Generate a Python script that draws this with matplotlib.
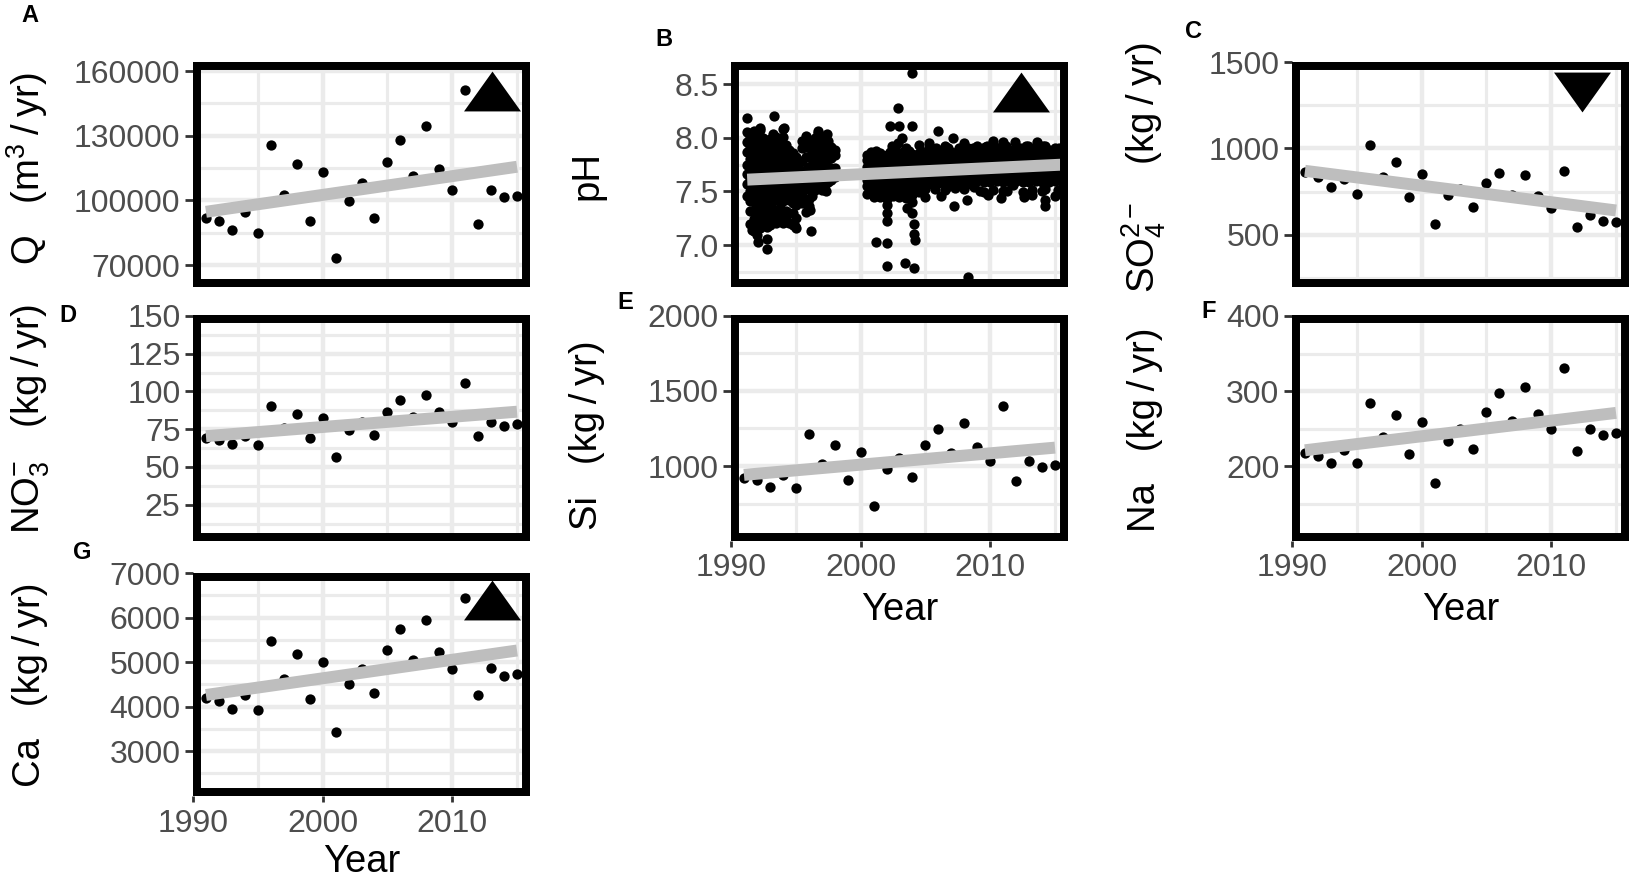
import numpy as np
import matplotlib
matplotlib.use("Agg")
import matplotlib.pyplot as plt
from matplotlib.patches import Rectangle

plt.rcParams['font.family'] = ['Liberation Sans', 'DejaVu Sans']
plt.rcParams['mathtext.fontset'] = 'custom'
plt.rcParams['mathtext.rm'] = 'Liberation Sans'
plt.rcParams['mathtext.it'] = 'Liberation Sans:italic'
plt.rcParams['mathtext.bf'] = 'Liberation Sans:bold'

# ---------------- data ----------------
years = [1991, 1992, 1993, 1994, 1995, 1996, 1997, 1998, 1999, 2000, 2001, 2002, 2003,
         2004, 2005, 2006, 2007, 2008, 2009, 2010, 2011, 2012, 2013, 2014, 2015]

q_flow = [91700, 90500, 86300, 94500, 84700, 125500, 102600, 116900, 90500, 113000, 73400, 99900,
          108000, 91700, 117800, 128200, 111400, 134700, 114700, 104600, 151000, 89100, 104600,
          101500, 101800]
so4_load = [861, 832, 778, 823, 736, 1019, 836, 919, 721, 852, 563, 730, 765, 663, 798, 855, 730,
            848, 726, 653, 867, 543, 615, 582, 572]
no3_load = [69.5, 68.2, 65.1, 70.4, 64.7, 90.1, 76.1, 85.3, 69.1, 82.5, 56.8, 74.8, 79.8, 71.1,
            86.6, 94.5, 83.1, 97.6, 86.2, 80.0, 105.7, 70.2, 80.0, 77.0, 78.3]
si_load = [923, 907, 863, 938, 857, 1212, 1011, 1137, 907, 1095, 737, 982, 1051, 925, 1143, 1245,
           1084, 1287, 1124, 1035, 1402, 901, 1033, 996, 1007]
na_load = [218, 214, 205, 222, 204, 284, 239, 268, 216, 259, 178, 234, 250, 223, 272, 297, 261, 306,
           270, 250, 331, 220, 250, 242, 245]
ca_load = [4188, 4121, 3935, 4263, 3920, 5484, 4613, 5186, 4173, 5007, 3421, 4516, 4851, 4300, 5261,
           5752, 5037, 5939, 5231, 4836, 6438, 4255, 4858, 4680, 4739]

# pH samples: sampling date (decimal year) and the pH values (x100) measured around that date
ph_dates = [1991.25, 1991.50, 1991.75, 1992.00, 1992.25, 1992.50, 1992.75, 1993.00, 1993.25, 1993.50,
            1993.75, 1994.00, 1994.25, 1994.50, 1994.75, 1995.00, 1995.25, 1995.50, 1995.75, 1996.00,
            1996.25, 1996.50, 1996.75, 1997.00, 1997.25, 1997.50, 1997.75, 1998.00,
            2000.50, 2000.75, 2001.00, 2001.25, 2001.50, 2001.75, 2002.00, 2002.25, 2002.50, 2002.75,
            2003.00, 2003.25, 2003.50, 2003.75, 2004.00, 2004.25, 2004.50, 2004.75, 2005.00, 2005.25,
            2005.50, 2005.75, 2006.00, 2006.25, 2006.50, 2006.75, 2007.00, 2007.25, 2007.50, 2007.75,
            2008.00, 2008.25, 2008.50, 2008.75, 2009.00, 2009.25, 2009.50, 2009.75, 2010.00, 2010.25,
            2010.50, 2010.75, 2011.00, 2011.25, 2011.50, 2011.75, 2012.00, 2012.25, 2012.50, 2012.75,
            2013.00, 2013.25, 2013.50, 2013.75, 2014.00, 2014.25, 2014.50, 2014.75, 2015.00, 2015.25,
            2015.50]
ph_values = [
    "746 757 766 775 787 796 805 818",
    "720 732 741 750 762 771 780 792 801",
    "713 724 733 745 754 763 775 784 794 806",
    "709 718 730 739 748 760 769 778 790 799",
    "716 725 737 746 755 767 776 785 797 807",
    "721 730 742 751 760 772 781 790 800",
    "706 717 726 735 747 756 765 777 786 796",
    "719 728 740 749 758 770 779 788 799",
    "723 734 743 752 764 773 782 794 803",
    "721 730 742 751 760 772 781 790 801",
    "726 735 747 756 765 777 786 796",
    "721 732 741 750 762 771 780 792 801 808",
    "723 732 744 753 762 774 783 793",
    "721 730 742 751 760 772 781 789",
    "719 730 739 748 760 769 778 786",
    "716 725 737 746 755 767 776 782",
    "743 754 763 771",
    "739 748 760 769 778 790 797",
    "731 740 752 761 770 782 791 799",
    "743 752 764 773 782 791",
    "746 757 766 775 787 794",
    "751 760 772 781 790 800",
    "756 765 777 786 795 804",
    "751 762 771 780 792 796",
    "756 765 777 786 795 801",
    "759 768 780 789 797",
    "761 772 781 791",
    "763 772 784 789",
    "748 755 761 767 773 779 784",
    "752 758 764 770 776 782",
    "746 755 761 767 773 779 785",
    "751 758 764 770 776 782",
    "745 755 761 767 773 779 786",
    "750 758 764 770 776 782",
    "743 754 760 766 772 778 784",
    "750 757 763 769 775 781 787",
    "746 755 761 767 773 779 785",
    "752 758 764 770 776 782 788",
    "745 754 760 766 772 778 784",
    "750 757 763 769 775 781 787",
    "744 755 761 767 773 779 785",
    "751 758 764 770 776 782 788",
    "747 755 761 767 773 779 785",
    "752 758 764 770 776 782",
    "749 756 762 768 774 780 786",
    "758 764 770 776 782",
    "752 758 764 770 776 782 787",
    "760 766 772 778 784 790",
    "757 763 769 775 781 787",
    "752 760 766 772 778 784",
    "758 764 770 776 782 788",
    "760 766 772 778 784",
    "751 757 763 769 775 781 787",
    "760 766 772 778 784 790",
    "757 763 769 775 781 787",
    "753 760 766 772 778 784",
    "758 764 770 776 782 788",
    "760 766 772 778 784",
    "752 757 763 769 775 781 787",
    "760 766 772 778 784 790",
    "757 763 769 775 781 787",
    "754 760 766 772 778 784",
    "760 766 772 778 784 790",
    "762 768 774 780 786",
    "749 759 765 771 777 783 789",
    "762 768 774 780 786 792",
    "759 765 771 777 783 789",
    "751 762 768 774 780 786",
    "760 766 772 778 784 790",
    "762 768 774 780 786",
    "750 759 765 771 777 783 789",
    "762 768 774 780 786 792",
    "759 765 771 777 783 789",
    "756 762 768 774 780 786",
    "760 766 772 778 784 790",
    "762 768 774 780 786",
    "749 759 765 771 777 783 789",
    "762 768 774 780 786 792",
    "759 765 771 777 783 789",
    "751 762 768 774 780 786",
    "760 766 772 778 784 790",
    "762 768 774 780 786",
    "750 759 765 771 777 783 789",
    "752 762 768 774 780 786 792",
    "759 765 771 777 783 789",
    "762 768 774 780 786",
    "760 766 772 778 784 790",
    "751 762 768 774 780 786",
    "759 765 771 777 783 789"]
ph_extra_dates = [1993.3, 1992.2, 1994.1, 1995.8, 1996.7, 1997.4, 1992.1, 1992.8, 1996.2, 1996.1,
                  1997.3, 1996.0, 1991.6, 1994.9,
                  2001.2, 2002.05, 2002.05, 2003.4, 2004.1, 2008.3, 2004.0, 2002.85, 2003.0, 2002.3,
                  2004.0, 2003.2, 2002.0, 2002.0, 2002.0, 2004.0, 2004.0, 2004.1, 2004.1, 2004.2,
                  2003.6, 2007.2, 2008.2, 2014.2, 2014.2, 2006.0, 2007.1, 2005.3, 2010.2, 2011.0,
                  2011.9, 2013.6, 2014.1, 2009.0, 2008.0, 2001.0, 2006.6, 2009.2, 2011.3,
                  2002.4, 2002.9, 2003.5, 2004.5, 2005.8, 2006.5, 2007.6, 2008.7, 2009.6, 2010.6,
                  2012.3, 2012.9, 2014.6, 2015.3, 2001.2, 2000.8,
                  2005.0, 2006.2, 2009.8, 2012.6, 2013.2, 2015.0, 2010.8]
ph_extra_values = [8.20, 8.09, 8.09, 8.02, 8.06, 8.03, 7.03, 6.96, 7.13, 7.33,
                   7.50, 7.36, 7.14, 7.18,
                   7.03, 7.02, 6.81, 6.83, 6.79, 6.70, 8.60, 8.28, 8.11, 8.11,
                   8.11, 8.00, 7.37, 7.30, 7.22, 7.40, 7.30, 7.20, 7.10, 7.05,
                   7.35, 7.36, 7.42, 7.42, 7.36, 8.06, 8.00, 7.95, 7.97, 7.96,
                   7.96, 7.96, 7.92, 7.92, 7.95, 7.45, 7.53, 7.50, 7.50,
                   7.92, 7.95, 7.90, 7.93, 7.90, 7.92, 7.90, 7.90, 7.91, 7.90,
                   7.90, 7.92, 7.88, 7.90, 7.88, 7.87,
                   7.45, 7.46, 7.47, 7.45, 7.47, 7.46, 7.44]

# significant trend markers (Mann-Kendall): position and direction
trend_marks = {"A": (2013.1, 150800, "up"), "B": (2012.4, 8.43, "up"),
               "C": (2012.4, 1326, "down"), "G": (2013.1, 6390, "up")}

# ---------------- figure ----------------
W, H = 1632, 880
fig = plt.figure(figsize=(W / 100, H / 100), dpi=100)
fig.patch.set_facecolor("white")

cols = [(193, 530), (731, 1068), (1292, 1629)]
rows = [(62, 287), (315.5, 541), (573, 796)]

TICK_GREY = "#4D4D4D"
GRID = "#EBEBEB"
LINE_GREY = "#BEBEBE"
PT_SIZE = 55

tri_up = [(-1, -0.7), (1, -0.7), (0, 0.7)]
tri_dn = [(-1, 0.7), (1, 0.7), (0, -0.7)]


def make_ax(col, row):
    x0, x1 = cols[col]
    y0, y1 = rows[row]
    return fig.add_axes([x0 / W, 1 - y1 / H, (x1 - x0) / W, (y1 - y0) / H])


def style(ax, ylim, majors, labels, minors, xlabels):
    ax.set_xlim(1990, 2016)
    ax.set_ylim(*ylim)
    ax.set_xticks([1990, 2000, 2010])
    ax.set_xticks([1995, 2005, 2015], minor=True)
    ax.set_yticks(majors)
    ax.set_yticklabels(labels)
    ax.set_yticks(minors, minor=True)
    ax.grid(which="major", color=GRID, lw=3.2)
    ax.grid(which="minor", color=GRID, lw=2.3)
    ax.set_axisbelow(True)
    for s in ax.spines.values():
        s.set_visible(False)
    ax.add_patch(Rectangle((0, 0), 1, 1, transform=ax.transAxes, fill=False,
                           ec="black", lw=11.5, clip_on=True, zorder=10))
    ax.tick_params(axis="y", which="major", length=6, width=2, color="#333333",
                   labelsize=23, labelcolor=TICK_GREY, pad=3)
    ax.tick_params(axis="both", which="minor", length=0)
    if xlabels:
        ax.tick_params(axis="x", which="major", length=4, width=2, color="#333333",
                       labelsize=23, labelcolor=TICK_GREY, pad=5)
    else:
        ax.tick_params(axis="x", which="major", length=0, labelbottom=False)


def add_trend(ax, x, y):
    k, b = np.polyfit(x, y, 1)
    xe = np.array([x.min(), x.max()])
    ax.plot(xe, k * xe + b, color=LINE_GREY, lw=8.6, solid_capstyle="butt", zorder=3)


def annual(ax, vals):
    x = np.array(years, dtype=float)
    y = np.array(vals, dtype=float)
    ax.scatter(x, y, s=PT_SIZE, c="black", linewidths=0, zorder=2)
    add_trend(ax, x, y)


def mark(ax, key):
    if key in trend_marks:
        tx, ty, d = trend_marks[key]
        ax.scatter([tx], [ty], marker=tri_up if d == "up" else tri_dn, s=41 ** 2,
                   c="black", linewidths=0, zorder=4)


# A: discharge
axA = make_ax(0, 0)
annual(axA, q_flow)
mark(axA, "A")
style(axA, (59800, 164200), [70000, 100000, 130000, 160000],
      ["70000", "100000", "130000", "160000"], [85000, 115000, 145000], False)

# B: pH
axB = make_ax(1, 0)
px, py = [], []
for d, vs in zip(ph_dates, ph_values):
    for v in vs.split():
        px.append(d)
        py.append(int(v) / 100)
px += ph_extra_dates
py += ph_extra_values
px = np.array(px)
py = np.array(py)
axB.scatter(px, py, s=PT_SIZE, c="black", linewidths=0, zorder=2)
add_trend(axB, px, py)
mark(axB, "B")
style(axB, (6.61, 8.705), [7.0, 7.5, 8.0, 8.5], ["7.0", "7.5", "8.0", "8.5"],
      [6.75, 7.25, 7.75, 8.25], False)

# C: sulfate
axC = make_ax(2, 0)
annual(axC, so4_load)
mark(axC, "C")
style(axC, (197, 1501), [500, 1000, 1500], ["500", "1000", "1500"], [250, 750, 1250], False)

# D: nitrate
axD = make_ax(0, 1)
annual(axD, no3_load)
style(axD, (1, 150.3), [25, 50, 75, 100, 125, 150], ["25", "50", "75", "100", "125", "150"],
      [12.5, 37.5, 62.5, 87.5, 112.5, 137.5], False)

# E: silica
axE = make_ax(1, 1)
annual(axE, si_load)
style(axE, (502, 2001), [1000, 1500, 2000], ["1000", "1500", "2000"], [750, 1250, 1750], True)

# F: sodium
axF = make_ax(2, 1)
annual(axF, na_load)
style(axF, (101, 400.5), [200, 300, 400], ["200", "300", "400"], [150, 250, 350], True)

# G: calcium
axG = make_ax(0, 2)
annual(axG, ca_load)
mark(axG, "G")
style(axG, (1990, 7002), [3000, 4000, 5000, 6000, 7000],
      ["3000", "4000", "5000", "6000", "7000"], [2500, 3500, 4500, 5500, 6500], True)

# panel letters
for lab, (lx, ly) in {"A": (30, 16), "B": (664, 40), "C": (1193, 31), "D": (68, 315),
                      "E": (625, 302), "F": (1209, 311), "G": (82, 552)}.items():
    fig.text(lx / W, 1 - ly / H, lab, fontsize=17, fontweight="bold", ha="center", va="center")

# y-axis titles (baseline x, centre y)
ytitles = [("Q   (m$^{3}$\u2009/\u2009yr)", 40, 169),
           ("pH", 597, 175),
           ("$\\mathregular{SO_4^{2-}}$   (kg\u2009/\u2009yr)", 1155, 167),
           ("$\\mathregular{NO_3^{-}}$   (kg\u2009/\u2009yr)", 40, 419),
           ("Si   (kg\u2009/\u2009yr)", 597, 435),
           ("Na   (kg\u2009/\u2009yr)", 1155, 430),
           ("Ca   (kg\u2009/\u2009yr)", 40, 685)]
for t, bx, cy in ytitles:
    fig.text(bx / W, 1 - cy / H, t, fontsize=27.5, rotation=90, rotation_mode="anchor",
             ha="center", va="baseline", color="black")

# x-axis titles
for cx, by in [(899.5, 620), (1460.5, 620), (361.5, 872)]:
    fig.text(cx / W, 1 - by / H, "Year", fontsize=27.5, ha="center", va="baseline", color="black")

fig.savefig("out.png", dpi=100, facecolor="white")
